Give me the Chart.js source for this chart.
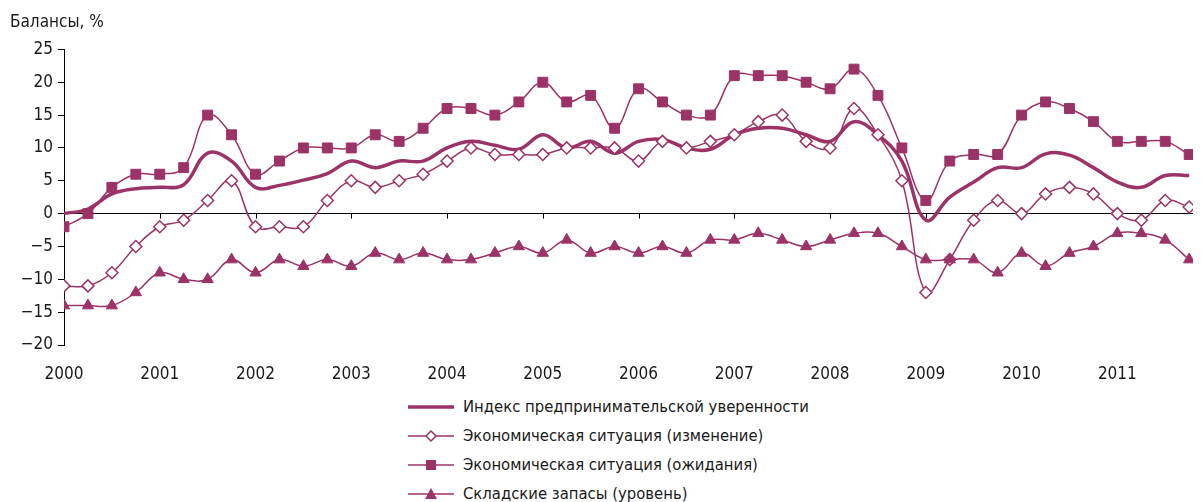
<!DOCTYPE html>
<html lang="ru">
<head>
<meta charset="utf-8">
<script src="https://cdn.jsdelivr.net/npm/chart.js@4.4.1/dist/chart.umd.min.js"></script>
<style>
  html, body { margin: 0; padding: 0; background: #fff; }
  #wrap { position: relative; width: 1201px; height: 502px; overflow: hidden; }
  #chartBox { position: absolute; left: 0; top: 0; width: 1201px; height: 390px; }
  #legend {
    position: absolute; left: 408px; top: 392px; margin: 0; padding: 0; list-style: none;
    font-family: 'Liberation Sans Narrow', 'DejaVu Sans Condensed', sans-serif;
    font-size: 16.5px; letter-spacing: 0; color: #1a1a1a;
  }
  #legend li { height: 29px; display: flex; align-items: center; white-space: nowrap; }
  #legend svg { width: 46px; height: 16px; margin-right: 9px; flex: none; }
</style>
</head>
<body>
<div id="wrap">
  <div id="chartBox"><canvas id="businessChart"></canvas></div>
  <ul id="legend"></ul>
</div>
<script>
// Балансы, % — квартальные данные 2000–2011
const years = [2000, 2001, 2002, 2003, 2004, 2005, 2006, 2007, 2008, 2009, 2010, 2011];
const quarterOffsets = [0, 0.25, 0.5, 0.75];

const seriesNames = [
  'Индекс предпринимательской уверенности',
  'Экономическая ситуация (изменение)',
  'Экономическая ситуация (ожидания)',
  'Складские запасы (уровень)'
];

const confidenceIndex = [
  0, 0.7, 3, 3.8, 4, 4.4, 9.2, 8,
  4, 4.3, 5.1, 6.1, 8, 7, 8, 8,
  10, 11, 10.4, 9.8, 12, 10, 11, 9.2,
  11, 11.3, 10, 9.8, 12, 13, 13, 12,
  11, 14, 12, 8, -1, 2.5, 4.8, 7,
  7, 9.1, 8.9, 7, 4.8, 4, 5.8, 5.8
];
const situationChange = [
  -11, -11, -9, -5, -2, -1, 2, 5,
  -2, -2, -2, 2, 5, 4, 5, 6,
  8, 10, 9, 9, 9, 10, 10, 10,
  8, 11, 10, 11, 12, 14, 15, 11,
  10, 16, 12, 5, -12, -7, -1, 2,
  0, 3, 4, 3, 0, -1, 2, 1
];
const situationExpect = [
  -2, 0, 4, 6, 6, 7, 15, 12,
  6, 8, 10, 10, 10, 12, 11, 13,
  16, 16, 15, 17, 20, 17, 18, 13,
  19, 17, 15, 15, 21, 21, 21, 20,
  19, 22, 18, 10, 2, 8, 9, 9,
  15, 17, 16, 14, 11, 11, 11, 9
];
const stocksLevel = [
  -14, -14, -14, -12, -9, -10, -10, -7,
  -9, -7, -8, -7, -8, -6, -7, -6,
  -7, -7, -6, -5, -6, -4, -6, -5,
  -6, -5, -6, -4, -4, -3, -4, -5,
  -4, -3, -3, -5, -7, -7, -7, -9,
  -6, -8, -6, -5, -3, -3, -4, -7
];

const yTicks = { min: -20, max: 25, step: 5 };

const mainColor = '#9b3366';
const fontFamily = "'Liberation Sans Narrow', 'DejaVu Sans Condensed', sans-serif";

const quarterPos = years.flatMap(y => quarterOffsets.map(q => y + q));
function toPoints(values) {
  return values.map((v, i) => ({ x: quarterPos[i], y: v }));
}

// засечки оси X на нулевой линии
const zeroTicks = {
  id: 'zeroTicks',
  beforeDatasetsDraw(chart) {
    const xs = chart.scales.x;
    const y0 = chart.scales.y.getPixelForValue(0);
    const ctx = chart.ctx;
    ctx.save();
    ctx.strokeStyle = '#000';
    ctx.lineWidth = 1;
    xs.ticks.forEach(t => {
      const px = Math.round(xs.getPixelForValue(t.value)) + 0.5;
      ctx.beginPath();
      ctx.moveTo(px, y0);
      ctx.lineTo(px, y0 + 5);
      ctx.stroke();
    });
    ctx.restore();
  }
};

const datasets = [
  {
    label: seriesNames[0],
    data: toPoints(confidenceIndex),
    borderColor: mainColor,
    borderWidth: 3.5,
    pointRadius: 0,
    tension: 0.4,
    order: 4
  },
  {
    label: seriesNames[1],
    data: toPoints(situationChange),
    borderColor: mainColor,
    borderWidth: 1.5,
    pointStyle: 'rectRot',
    pointRadius: 6,
    pointBackgroundColor: '#fff',
    pointBorderColor: mainColor,
    pointBorderWidth: 1.5,
    tension: 0.4,
    order: 3
  },
  {
    label: seriesNames[2],
    data: toPoints(situationExpect),
    borderColor: mainColor,
    borderWidth: 1.5,
    pointStyle: 'rect',
    pointRadius: 7,
    pointBackgroundColor: mainColor,
    pointBorderColor: mainColor,
    pointBorderWidth: 1,
    tension: 0.4,
    order: 2
  },
  {
    label: seriesNames[3],
    data: toPoints(stocksLevel),
    borderColor: mainColor,
    borderWidth: 1.5,
    pointStyle: 'triangle',
    pointRadius: 6.5,
    pointBackgroundColor: mainColor,
    pointBorderColor: mainColor,
    pointBorderWidth: 1,
    tension: 0.4,
    order: 1
  }
];

const ctx = document.getElementById('businessChart').getContext('2d');
const chart = new Chart(ctx, {
  type: 'line',
  data: { datasets: datasets },
  options: {
    responsive: true,
    maintainAspectRatio: false,
    animation: false,
    layout: { padding: { left: 10, right: 0, top: 0, bottom: 0 } },
    plugins: {
      legend: { display: false },
      tooltip: { enabled: false },
      title: {
        display: true,
        text: 'Балансы, %',
        align: 'start',
        color: '#1a1a1a',
        font: { family: fontFamily, size: 17, weight: 'normal' },
        padding: { top: 12, bottom: 17 }
      }
    },
    scales: {
      x: {
        type: 'linear',
        min: years[0],
        max: 2011.79,
        afterFit: s => { s.height = 45; },
        ticks: {
          stepSize: 1,
          includeBounds: false,
          autoSkip: false,
          maxRotation: 0,
          padding: 11,
          color: '#1a1a1a',
          font: { family: fontFamily, size: 17 },
          callback: v => String(v)
        },
        grid: { display: false },
        border: { display: false }
      },
      y: {
        min: yTicks.min,
        max: yTicks.max,
        afterFit: s => { s.width = 54; },
        ticks: {
          stepSize: yTicks.step,
          padding: 5,
          color: '#1a1a1a',
          font: { family: fontFamily, size: 17 },
          callback: v => v < 0 ? '\u2212' + Math.abs(v) : String(v)
        },
        grid: {
          color: c => (c.tick && c.tick.value === 0) ? '#000' : 'rgba(0,0,0,0)',
          tickColor: '#000',
          tickLength: 6,
          lineWidth: 1
        },
        border: { display: true, color: '#000', width: 1 }
      }
    }
  },
  plugins: [zeroTicks]
});

// легенда под графиком
function sampleSvg(ds) {
  let marker = '';
  const c = mainColor;
  if (ds.pointStyle === 'rectRot') {
    marker = '<polygon points="23,3 28,8 23,13 18,8" fill="#fff" stroke="' + c + '" stroke-width="1.5"/>';
  } else if (ds.pointStyle === 'rect') {
    marker = '<rect x="18" y="3" width="10" height="10" fill="' + c + '"/>';
  } else if (ds.pointStyle === 'triangle') {
    marker = '<polygon points="23,2 29,13 17,13" fill="' + c + '"/>';
  }
  const w = ds.pointRadius ? 1.5 : 3.5;
  return '<svg viewBox="0 0 46 16"><line x1="0" y1="8" x2="46" y2="8" stroke="' + c +
    '" stroke-width="' + w + '"/>' + marker + '</svg>';
}
const legendEl = document.getElementById('legend');
chart.data.datasets.forEach(ds => {
  const li = document.createElement('li');
  li.innerHTML = sampleSvg(ds) + '<span>' + ds.label + '</span>';
  legendEl.appendChild(li);
});
</script>
</body>
</html>
